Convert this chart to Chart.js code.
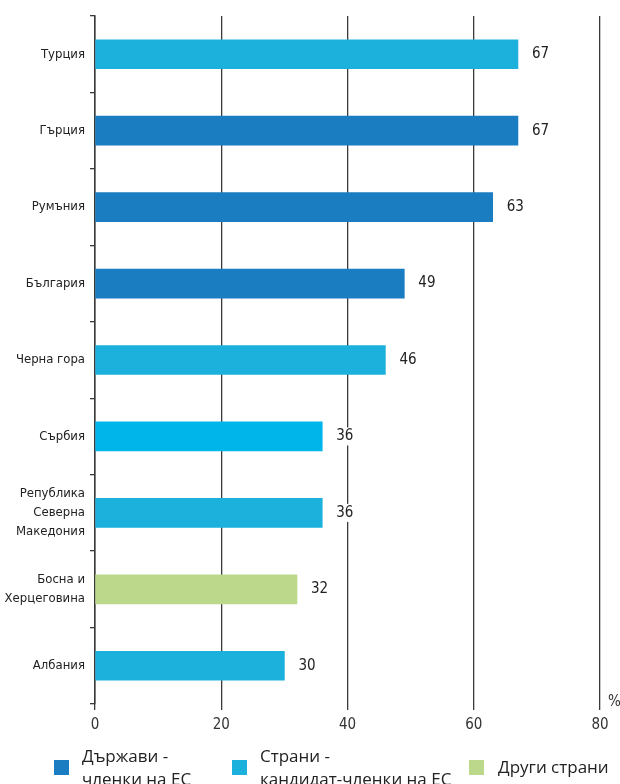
<!DOCTYPE html>
<html>
<head>
<meta charset="utf-8">
<script src="https://cdn.jsdelivr.net/npm/chart.js@4"></script>
<style>
  html, body { margin: 0; padding: 0; background: #fff; }
  #wrap { width: 620px; height: 784px; position: relative; }
</style>
</head>
<body>
<div id="wrap"><canvas id="bar-chart"></canvas></div>
<script>
// data
const countries = [
  "Турция",
  "Гърция",
  "Румъния",
  "България",
  "Черна гора",
  "Сърбия",
  ["Република", "Северна", "Македония"],
  ["Босна и", "Херцеговина"],
  "Албания",
];
const values = [67, 67, 63, 49, 46, 36, 36, 32, 30];
const groups = ["cand", "eu", "eu", "eu", "cand", "cand", "cand", "other", "cand"];
const xTicks = [0, 20, 40, 60, 80];
const legendLabels = [
  ["Държави -", "членки на ЕС"],
  ["Страни -", "кандидат-членки на ЕС"],
  ["Други страни"],
];

const groupColors = { eu: "#1a7dc2", cand: "#1bb1dc", other: "#bcd98b" };
const barColors = groups.map((g) => groupColors[g]);
barColors[5] = "#00b5ea"; // Сърбия is a touch brighter in the original

const narrow = "'Liberation Sans Narrow', 'DejaVu Sans Condensed', sans-serif";
const axisColor = "#3a3a3a";

// value labels next to the bars, with white behind so grid lines break
const valueLabels = {
  id: "valueLabels",
  afterDatasetsDraw(chart) {
    const ctx = chart.ctx;
    const meta = chart.getDatasetMeta(0);
    ctx.save();
    ctx.font = "15px " + narrow;
    ctx.textBaseline = "middle";
    ctx.textAlign = "left";
    meta.data.forEach((bar, i) => {
      const txt = String(values[i]);
      const x = bar.x + 14;
      const w = ctx.measureText(txt).width;
      ctx.fillStyle = "#fff";
      ctx.fillRect(x - 3, bar.y - 9, w + 6, 18);
      ctx.fillStyle = "#222";
      ctx.fillText(txt, x, bar.y);
    });
    ctx.restore();
  },
};

// "%" unit mark and the legend at the foot
const extras = {
  id: "extras",
  afterDraw(chart) {
    const ctx = chart.ctx;
    const area = chart.chartArea;
    ctx.save();
    ctx.fillStyle = "#333";
    ctx.font = "15px " + narrow;
    ctx.textBaseline = "middle";
    ctx.fillText("%", area.right + 8, area.bottom - 2);

    const legendX = [54, 232, 469];
    const legendCols = [groupColors.eu, groupColors.cand, groupColors.other];
    ctx.font = "17px 'Open Sans', sans-serif";
    legendLabels.forEach((lines, i) => {
      ctx.fillStyle = legendCols[i];
      ctx.fillRect(legendX[i], 760, 15, 15);
      ctx.fillStyle = "#222";
      if (lines.length === 1) {
        ctx.fillText(lines[0], legendX[i] + 29, 768);
      } else {
        ctx.fillText(lines[0], legendX[i] + 28, 757);
        ctx.fillText(lines[1], legendX[i] + 28, 780);
      }
    });
    ctx.restore();
  },
};

new Chart(document.getElementById("bar-chart"), {
  type: "bar",
  data: {
    labels: countries,
    datasets: [
      {
        data: values,
        backgroundColor: barColors,
        barThickness: 29,
      },
    ],
  },
  options: {
    indexAxis: "y",
    responsive: true,
    maintainAspectRatio: false,
    animation: false,
    layout: { padding: { top: 16, right: 20, bottom: 50, left: 0 } },
    plugins: {
      legend: { display: false },
      tooltip: { enabled: false },
    },
    scales: {
      x: {
        min: 0,
        max: 80,
        afterBuildTicks(scale) {
          scale.ticks = xTicks.map((v) => ({ value: v }));
        },
        afterFit(scale) {
          scale.height = 30;
        },
        border: { display: false },
        grid: {
          color: axisColor,
          lineWidth: 1.3,
          tickLength: 6,
        },
        ticks: {
          color: "#333",
          padding: 6,
          font: { family: narrow, size: 15 },
        },
      },
      y: {
        afterFit(scale) {
          scale.width = 95;
        },
        border: { display: true, color: axisColor, width: 1.5 },
        grid: {
          offset: true,
          drawOnChartArea: false,
          color: axisColor,
          lineWidth: 1.3,
          tickLength: 5,
        },
        ticks: {
          color: "#222",
          padding: 5,
          font: { family: narrow, size: 13, lineHeight: 1.45 },
        },
      },
    },
  },
  plugins: [valueLabels, extras],
});
</script>
</body>
</html>
